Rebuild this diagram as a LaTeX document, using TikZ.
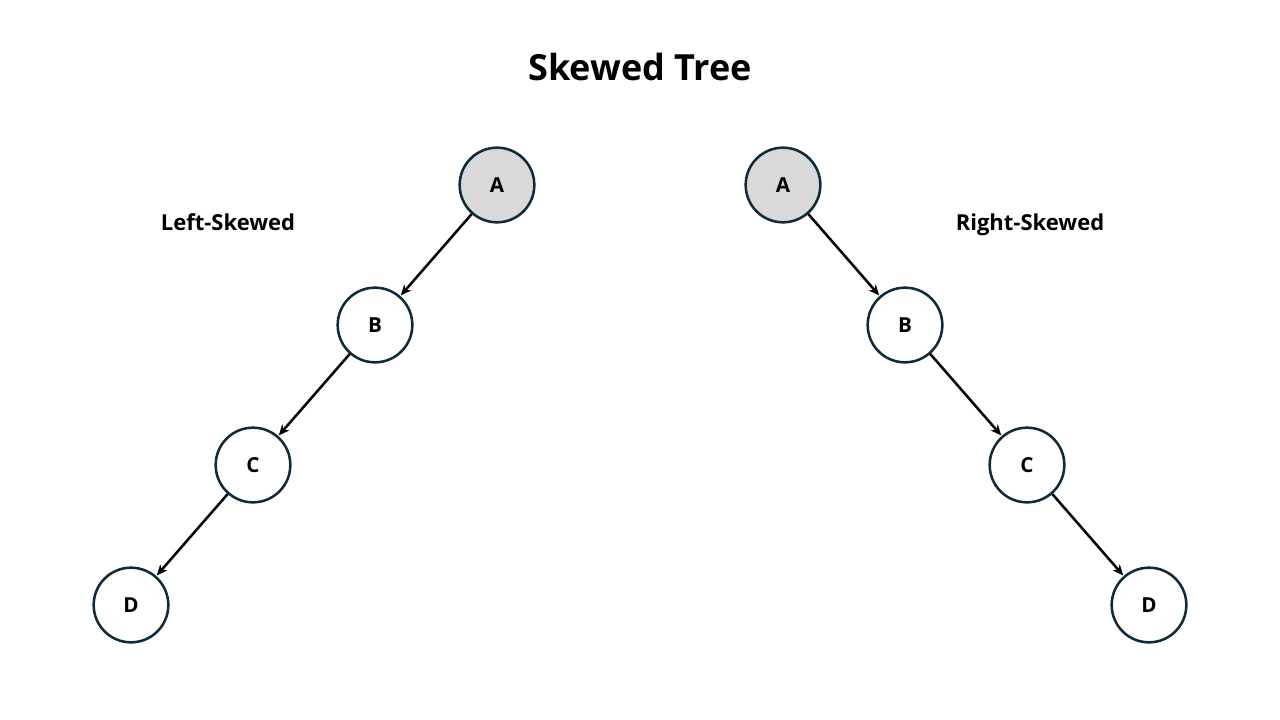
\documentclass[tikz,border=0pt]{standalone}
\usepackage{fontspec}
\setmainfont{Open Sans}
\usetikzlibrary{arrows.meta}
\definecolor{ring}{HTML}{0F2A3A}
\definecolor{rootfill}{HTML}{D9D9D9}
\tikzset{
  tnode/.style={circle, draw=ring, line width=1.9pt, fill=white, minimum size=56pt, inner sep=0pt, font=\fontsize{15.5}{18}\selectfont\bfseries},
  rootnode/.style={tnode, fill=rootfill},
  edge/.style={line width=1.9pt, black, -{Stealth[length=8pt,width=7pt]}, shorten >=0.5pt},
  lbl/.style={font=\fontsize{16.5}{20}\selectfont\bfseries, anchor=base}
}
\begin{document}
\begin{tikzpicture}[x=0.75pt,y=-0.75pt]
\useasboundingbox (0,0) rectangle (1280,720);
\node[font=\fontsize{27}{32}\selectfont\bfseries] (title) at (640,67) {Skewed Tree};
\node[lbl] (ll) at (228,231) {Left-Skewed};
\node[lbl] (rl) at (1030,231) {Right-Skewed};
\node[rootnode] (la) at (497,185) {A};
\node[tnode] (lb) at (375,325) {B};
\node[tnode] (lc) at (253,465) {C};
\node[tnode] (ld) at (131,605) {D};
\node[rootnode] (ra) at (783,185) {A};
\node[tnode] (rb) at (905,325) {B};
\node[tnode] (rc) at (1027,465) {C};
\node[tnode] (rd) at (1149,605) {D};
\draw[edge] (la) -- (lb);
\draw[edge] (lb) -- (lc);
\draw[edge] (lc) -- (ld);
\draw[edge] (ra) -- (rb);
\draw[edge] (rb) -- (rc);
\draw[edge] (rc) -- (rd);
\end{tikzpicture}
\end{document}
